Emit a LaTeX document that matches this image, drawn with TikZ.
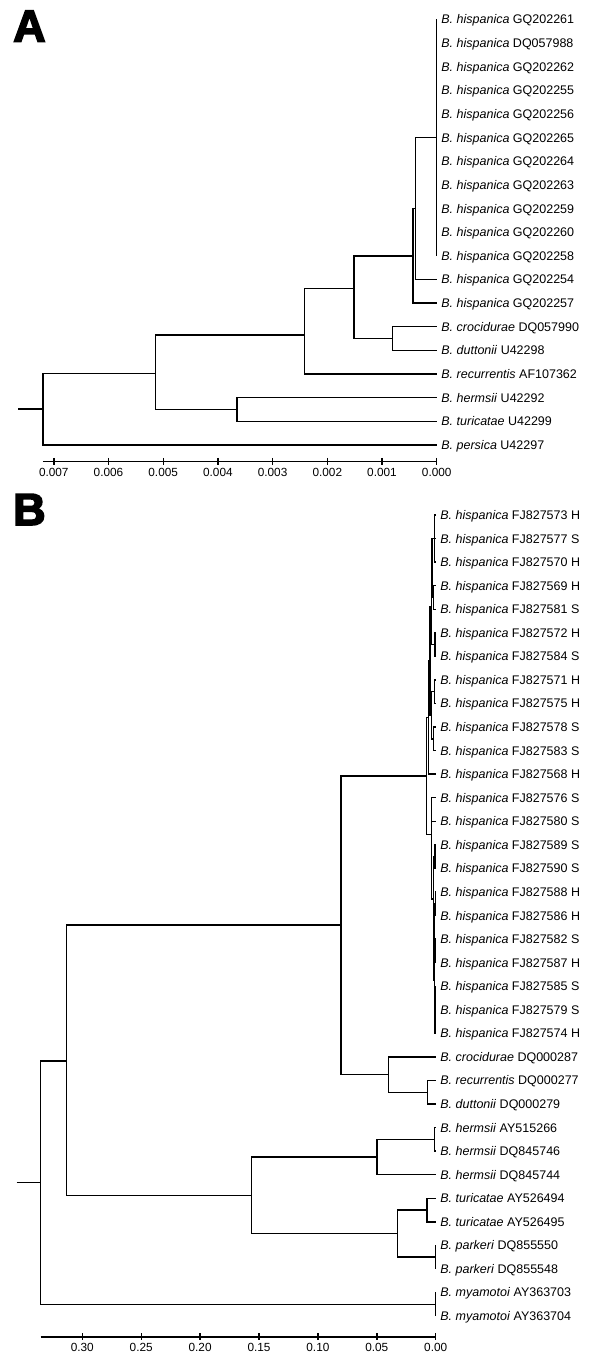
\documentclass[tikz,border=0pt]{standalone}
\usepackage{fontspec}
\setmainfont{Liberation Sans}
\newfontfamily\panelfont[FakeBold=3.5]{Liberation Sans Bold}

\begin{document}
\begin{tikzpicture}[
  x=1pt, y=-1pt,
  branch/.style ={line width=1.4pt, black},
  leaf/.style   ={anchor=west, inner xsep=4.5pt, inner ysep=0pt,
                  text height=9pt, text depth=0pt,
                  font=\fontsize{12.5}{14}\selectfont},
  ticklbl/.style={anchor=north, inner sep=0pt, yshift=-6.5pt,
                  font=\fontsize{11.8}{13}\selectfont},
  panel/.style  ={anchor=base west, inner sep=0pt,
                  font=\panelfont\fontsize{45}{50}\selectfont},
]

\path[fill=white] (0,0) rectangle (600,1368);
\useasboundingbox (0,0) rectangle (600,1368);

\node[panel] (pA) at (13,41.7) {A};
\node[panel] (pB) at (13,525) {B};

% panel A: x in units of 0.001, y in leaf rows
\begin{scope}[shift={(436.7pt,-19.3pt)}, x=-54.7pt, y=-23.65pt]
  \foreach \sp/\acc [count=\i from 0] in {hispanica/GQ202261, hispanica/DQ057988,
      hispanica/GQ202262, hispanica/GQ202255, hispanica/GQ202256, hispanica/GQ202265,
      hispanica/GQ202264, hispanica/GQ202263, hispanica/GQ202259, hispanica/GQ202260,
      hispanica/GQ202258, hispanica/GQ202254, hispanica/GQ202257, crocidurae/DQ057990,
      duttonii/U42298, recurrentis/AF107362, hermsii/U42292, turicatae/U42299,
      persica/U42297}
    \node[leaf] (la\i) at (0,\i) {\textit{B. \sp} \acc};

  \coordinate (ra0) at (7.65,16.48);
  \coordinate (ra)  at (7.20,16.48);
  \coordinate (a1)  at (5.14,14.97);
  \coordinate (a2)  at (2.42,13.35);
  \coordinate (a3)  at (3.65,16.5);
  \coordinate (a4)  at (1.51,11.37);
  \coordinate (a5)  at (0.43,10);
  \coordinate (a6)  at (0.81,13.5);
  \coordinate (a7)  at (0.39,8);
  \coordinate (a8)  at (0,5);

  \draw[branch] (ra0) -- (ra);
  \draw[branch] (ra) |- (a1);   \draw[branch] (ra) |- (la18.west);
  \draw[branch] (a1) |- (a2);   \draw[branch] (a1) |- (a3);
  \draw[branch] (a3) |- (la16.west);  \draw[branch] (a3) |- (la17.west);
  \draw[branch] (a2) |- (a4);   \draw[branch] (a2) |- (la15.west);
  \draw[branch] (a4) |- (a5);   \draw[branch] (a4) |- (a6);
  \draw[branch] (a6) |- (la13.west);  \draw[branch] (a6) |- (la14.west);
  \draw[branch] (a5) |- (a7);   \draw[branch] (a5) |- (la12.west);
  \draw[branch] (a7) |- (a8);   \draw[branch] (a7) |- (la11.west);
  \foreach \i in {0,...,10} \draw[branch] (a8) |- (la\i.west);

  % scale bar
  \coordinate (axa0) at (7.20,18.71);
  \coordinate (axa1) at (0,18.71);
  \draw[branch] (axa0) -- (axa1);
  \foreach \t in {0,...,7} {
    \draw[branch] (\t,18.71) ++(0pt,4pt) -- ++(0pt,-7pt);
    \node[ticklbl] (ta\t) at (\t,18.71) {0.00\t};
  }
\end{scope}

% panel B: x in distance units, y in leaf rows
\begin{scope}[shift={(435.7pt,-515pt)}, x=-1178pt, y=-23.56pt]
  \foreach \sp/\acc [count=\i from 0] in {hispanica/FJ827573 H, hispanica/FJ827577 S,
      hispanica/FJ827570 H, hispanica/FJ827569 H, hispanica/FJ827581 S,
      hispanica/FJ827572 H, hispanica/FJ827584 S, hispanica/FJ827571 H,
      hispanica/FJ827575 H, hispanica/FJ827578 S, hispanica/FJ827583 S,
      hispanica/FJ827568 H, hispanica/FJ827576 S, hispanica/FJ827580 S,
      hispanica/FJ827589 S, hispanica/FJ827590 S, hispanica/FJ827588 H,
      hispanica/FJ827586 H, hispanica/FJ827582 S, hispanica/FJ827587 H,
      hispanica/FJ827585 S, hispanica/FJ827579 S, hispanica/FJ827574 H,
      crocidurae/DQ000287, recurrentis/DQ000277, duttonii/DQ000279,
      hermsii/AY515266, hermsii/DQ845746, hermsii/DQ845744,
      turicatae/AY526494, turicatae/AY526495, parkeri/DQ855550,
      parkeri/DQ855548, myamotoi/AY363703, myamotoi/AY363704}
    \node[leaf] (lb\i) at (0,\i) {\textit{B. \sp} \acc};

  \coordinate (rb0) at (0.3557,28.34);
  \coordinate (rb)  at (0.3353,28.34);
  \coordinate (b1)  at (0.3132,23.17);
  \coordinate (bmy) at (0,33.5);
  \coordinate (b2)  at (0.0804,17.40);
  \coordinate (b3)  at (0.1565,28.875);
  \coordinate (bcr) at (0.0402,23.75);
  \coordinate (brd) at (0.0068,24.5);
  \coordinate (bhe) at (0.0500,27.25);
  \coordinate (bhe2) at (0.0010,26.5);
  \coordinate (btp) at (0.0323,30.5);
  \coordinate (btu) at (0.0074,29.5);
  \coordinate (bpa) at (0,31.5);
  % hispanica clade
  \coordinate (h0)   at (0.0076,11.08);
  \coordinate (hE)   at (0.0063,8.6);
  \coordinate (hD)   at (0.0048,6.19);
  \coordinate (hB)   at (0.0036,3.875);
  \coordinate (hA)   at (0.0030,2.25);
  \coordinate (h012) at (0.0008,1);
  \coordinate (h34)  at (0.0019,3.5);
  \coordinate (h56)  at (0.0006,5.5);
  \coordinate (hC)   at (0.0034,8.5);
  \coordinate (h78)  at (0.0010,7.5);
  \coordinate (h910) at (0.0019,9.5);
  \coordinate (hL)   at (0.0034,13.56);
  \coordinate (hN)   at (0.0020,16.3);
  \coordinate (h1415) at (0.0006,14.5);
  \coordinate (hP)   at (0.0014,18.1);
  \coordinate (h1617) at (0.0004,16.5);
  \coordinate (hQ)   at (0.0010,19.75);
  \coordinate (h1819) at (0.0004,18.5);
  \coordinate (hR)   at (0.0005,21);

  \draw[branch] (rb0) -- (rb);
  \draw[branch] (rb) |- (b1);   \draw[branch] (rb) |- (bmy);
  \draw[branch] (bmy) |- (lb33.west);  \draw[branch] (bmy) |- (lb34.west);
  \draw[branch] (b1) |- (b2);   \draw[branch] (b1) |- (b3);
  \draw[branch] (b3) |- (bhe);  \draw[branch] (b3) |- (btp);
  \draw[branch] (bhe) |- (bhe2); \draw[branch] (bhe) |- (lb28.west);
  \draw[branch] (bhe2) |- (lb26.west); \draw[branch] (bhe2) |- (lb27.west);
  \draw[branch] (btp) |- (btu); \draw[branch] (btp) |- (bpa);
  \draw[branch] (btu) |- (lb29.west); \draw[branch] (btu) |- (lb30.west);
  \draw[branch] (bpa) |- (lb31.west); \draw[branch] (bpa) |- (lb32.west);
  \draw[branch] (b2) |- (h0);   \draw[branch] (b2) |- (bcr);
  \draw[branch] (bcr) |- (lb23.west); \draw[branch] (bcr) |- (brd);
  \draw[branch] (brd) |- (lb24.west); \draw[branch] (brd) |- (lb25.west);

  \draw[branch] (h0) |- (hE);   \draw[branch] (h0) |- (hL);
  \draw[branch] (hE) |- (hD);   \draw[branch] (hE) |- (lb11.west);
  \draw[branch] (hD) |- (hB);   \draw[branch] (hD) |- (hC);
  \draw[branch] (hB) |- (hA);   \draw[branch] (hB) |- (h56);
  \draw[branch] (hA) |- (h012); \draw[branch] (hA) |- (h34);
  \foreach \i in {0,1,2} \draw[branch] (h012) |- (lb\i.west);
  \foreach \i in {3,4} \draw[branch] (h34) |- (lb\i.west);
  \foreach \i in {5,6} \draw[branch] (h56) |- (lb\i.west);
  \draw[branch] (hC) |- (h78);  \draw[branch] (hC) |- (h910);
  \foreach \i in {7,8} \draw[branch] (h78) |- (lb\i.west);
  \foreach \i in {9,10} \draw[branch] (h910) |- (lb\i.west);
  \draw[branch] (hL) |- (lb12.west); \draw[branch] (hL) |- (lb13.west);
  \draw[branch] (hL) |- (hN);
  \draw[branch] (hN) |- (h1415); \draw[branch] (hN) |- (hP);
  \foreach \i in {14,15} \draw[branch] (h1415) |- (lb\i.west);
  \draw[branch] (hP) |- (h1617); \draw[branch] (hP) |- (hQ);
  \foreach \i in {16,17} \draw[branch] (h1617) |- (lb\i.west);
  \draw[branch] (hQ) |- (h1819); \draw[branch] (hQ) |- (hR);
  \foreach \i in {18,19} \draw[branch] (h1819) |- (lb\i.west);
  \foreach \i in {20,21,22} \draw[branch] (hR) |- (lb\i.west);

  % scale bar
  \coordinate (axb0) at (0.3353,34.89);
  \coordinate (axb1) at (0,34.89);
  \draw[branch] (axb0) -- (axb1);
  \foreach \t/\s [count=\j] in {0/0.00, 0.05/0.05, 0.10/0.10, 0.15/0.15,
      0.20/0.20, 0.25/0.25, 0.30/0.30} {
    \draw[branch] (\t,34.89) ++(0pt,4pt) -- ++(0pt,-7pt);
    \node[ticklbl] (tb\j) at (\t,34.89) {\s};
  }
\end{scope}

\end{tikzpicture}
\end{document}
